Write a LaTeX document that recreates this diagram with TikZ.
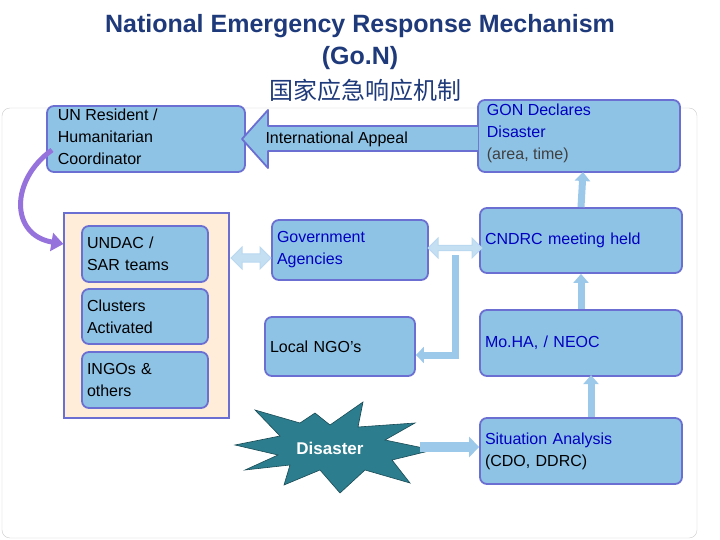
\documentclass[tikz,border=0pt]{standalone}
\usepackage{fontspec}
\setmainfont{Liberation Sans}
\newfontfamily\cjk{Noto Sans CJK SC}
\usetikzlibrary{shapes.arrows,arrows.meta}
\definecolor{boxf}{HTML}{8EC3E6}
\definecolor{boxd}{HTML}{6B6FD2}
\definecolor{txtb}{HTML}{0000C0}
\definecolor{ttl}{HTML}{1F3A7A}
\definecolor{arr}{HTML}{9CC8EA}
\definecolor{teal}{HTML}{2C7D8E}
\begin{document}
\begin{tikzpicture}[x=1pt,y=-1pt,
 box/.style={draw=boxd,line width=1.8pt,fill=boxf,rounded corners=7pt,inner sep=0pt,font=\fontsize{16}{22}\selectfont,align=left},
 up/.style={arr,line width=7pt,-{Triangle[width=15pt,length=9pt]}},
 dbl/.style={draw=arr!70!white,fill=arr!60!white,line width=1pt}]
\useasboundingbox (0,0) rectangle (720,540);
\fill[white] (0,0) rectangle (720,540);
\draw[gray!40,fill=white,rounded corners=8pt] (2,108) rectangle (697,538);
\node[font=\fontsize{25}{28}\selectfont\bfseries,text=ttl] (t1) at (360,26) {National Emergency Response Mechanism};
\node[font=\fontsize{25}{28}\selectfont\bfseries,text=ttl] (t2) at (360,58) {(Go.N)};
\node[font=\fontsize{24}{28}\selectfont\cjk,text=ttl] (t3) at (365,90) {国家应急响应机制};
% boxes
\draw[box] (47,106) rectangle (245,172); \node[box,draw=none,fill=none,anchor=north west] (un) at (57,108) {UN Resident /\\Humanitarian\\Coordinator};
\draw[box] (478,100) rectangle (680,172); \node[box,draw=none,fill=none,anchor=north west,text=txtb] (gon) at (486,103) {GON Declares\\Disaster\\\textcolor{black!75}{(area, time)}};
\coordinate (gonb) at (583,172);
% international appeal arrow
\draw[boxd,line width=1.8pt,fill=boxf,line join=round] (478,126)--(268,126)--(268,110)--(242,139)--(268,168)--(268,151)--(478,151);
\node[font=\fontsize{16}{18}\selectfont,anchor=west] (ia) at (262,139) {International Appeal};
\node[box,minimum width=202pt,minimum height=65pt,text width=192pt,text=txtb] (cn) at (581,240.5) {CNDRC meeting held\\[14pt]};
\node[box,minimum width=202pt,minimum height=66pt,text width=192pt,text=txtb] (mo) at (581,343) {Mo.HA, / NEOC};
\node[box,minimum width=202pt,minimum height=66pt,text width=192pt,text=txtb] (sa) at (581,451) {Situation Analysis\\\textcolor{black}{(CDO, DDRC)}};
\node[draw=boxd,line width=1.2pt,fill=orange!15,minimum width=165pt,minimum height=205pt] (pan) at (146.5,315.5) {};
\node[box,minimum width=126pt,minimum height=56pt,text width=116pt] (und) at (145,254) {UNDAC /\\SAR teams};
\node[box,minimum width=126pt,minimum height=55pt,text width=116pt] (clu) at (145,316.5) {Clusters\\Activated};
\node[box,minimum width=126pt,minimum height=56pt,text width=116pt] (ing) at (145,380) {INGOs \&\\others};
\node[box,minimum width=156pt,minimum height=60pt,text width=146pt,text=txtb] (gov) at (350,250) {Government\\Agencies\\[6pt]};
\node[box,minimum width=150pt,minimum height=59pt,text width=140pt] (ngo) at (340,346.5) {Local NGO’s};
% star
\fill[teal,draw=teal!60!black,line width=0.6pt] (235,445)--(280,436)--(255,410)--(300,423)--(315,413)--(330,425)--(363,402)--(358,427)--(415,423)--(385,440)--(433,450)--(392,460)--(410,483)--(365,470)--(340,493)--(320,470)--(284,485)--(290,465)--(245,470)--(278,455)--cycle;
\node[text=white,font=\fontsize{17}{20}\selectfont\bfseries] (dis) at (330,448) {Disaster};
\coordinate (dise) at (420,447);
% double arrows
\node[double arrow,dbl,minimum width=22pt,double arrow head extend=4pt,minimum height=40pt,inner sep=2pt] (d1) at (251,258) {};
\node[double arrow,dbl,minimum width=20pt,double arrow head extend=4pt,minimum height=54pt,inner sep=1pt] (d2) at (455,248) {};
\coordinate (v1) at (455,255);
\coordinate (v2) at (455,355);
\draw[arr,line width=7pt] (v1)--(v2);
\draw[arr,line width=7pt,-{Triangle[width=16pt,length=8pt]}] (458.5,355)--(ngo.east|-v2);
\draw[up] (sa.north)++(10,0)--++(0,-42);
\draw[up] (mo.north)--(cn.south);
\draw[up] (cn.north)--(gonb);
\draw[arr,line width=10pt,-{Triangle[width=20pt,length=10pt]}] (dise)--(sa.west|-dise);
% curved arrow
\draw[violet!50!blue!55,line width=5pt,-{Triangle[width=18pt,length=12pt]}] (52,150) .. controls (10,180) and (10,235) .. (pan.west|-0,244);
\end{tikzpicture}
\end{document}
